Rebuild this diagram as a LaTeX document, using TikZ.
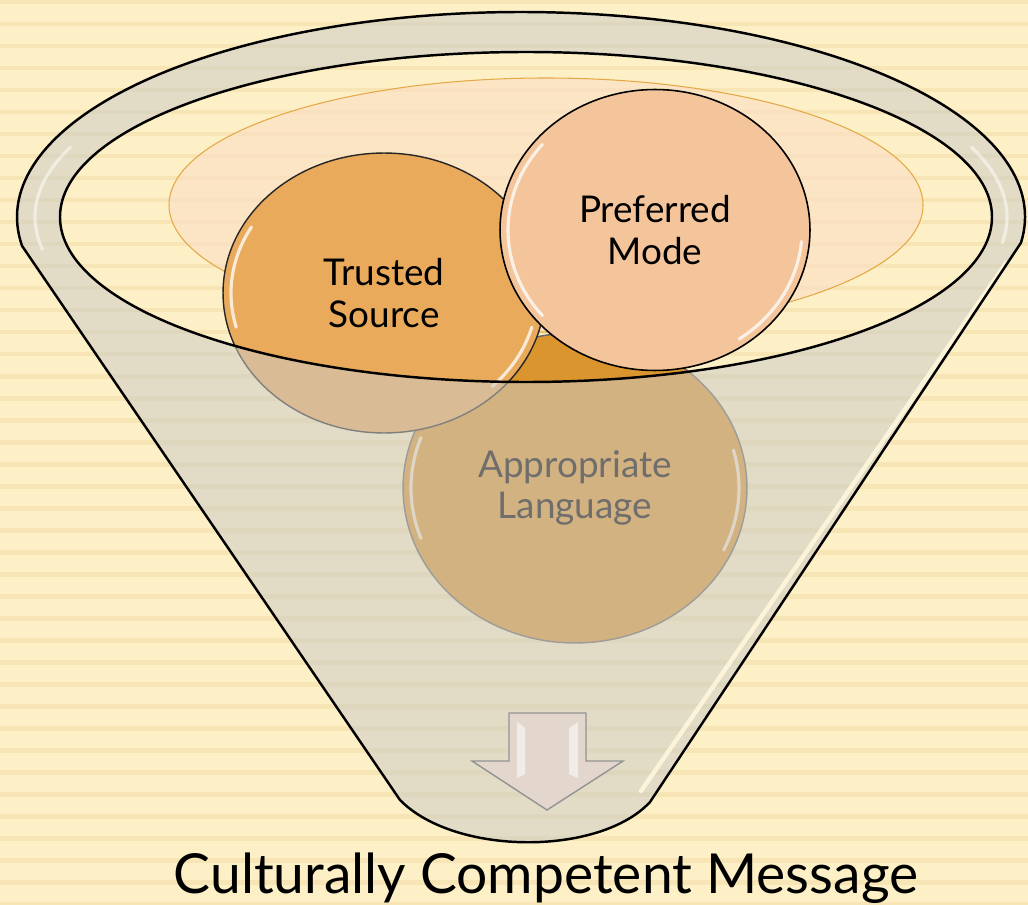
\documentclass[tikz,border=0pt]{standalone}
\usepackage{fontspec}
\setmainfont{Lato}
\usepackage{xcolor}
\usetikzlibrary{shapes.geometric, positioning}

\definecolor{paper}{HTML}{FDF0C6}
\definecolor{paperline}{HTML}{F8E5B6}
\definecolor{rimgrey}{HTML}{CCCAC6}
\definecolor{innerglow}{HTML}{FADEC4}
\definecolor{glowedge}{HTML}{E5A847}
\definecolor{trustcol}{HTML}{E9AA5B}
\definecolor{prefcol}{HTML}{F4C49A}
\definecolor{langcol}{HTML}{DA952F}
\definecolor{arrowfill}{HTML}{E3D7CD}
\definecolor{creamshine}{HTML}{FFF7DC}

\begin{document}
\begin{tikzpicture}[x=0.02cm, y=0.02cm,
    bubble/.style={ellipse, inner sep=0pt, align=center, font=\fontsize{21}{23.5}\selectfont},
    rimline/.style={line width=1.4pt, black},
    wall/.style={fill=rimgrey, fill opacity=0.55},
    gloss/.style={white, line width=1.8pt, opacity=0.75, line cap=round}]
    \useasboundingbox (0,0) rectangle (1028,904);

    % Striped paper
    \fill[paper] (0,0) rectangle (1028,904);
    \foreach \k in {0,...,41}
        \fill[paperline] (0,{904-22*\k}) rectangle (1028,{904-22*\k-4.5});

    % Funnel geometry
    \coordinate (oc) at (521,687);  % outer rim centre
    \coordinate (ic) at (526,687);  % inner rim centre
    \path (oc) ++(-7.2:504 and 205) coordinate (rc);
    \path (oc) ++(188.1:504 and 205) coordinate (lc);
    \coordinate (il) at (60,687);
    \coordinate (ir) at (992,687);
    \coordinate (bl) at (400,104);
    \coordinate (br) at (650,102);

    % Back part of the rim
    \fill[wall] (rc) arc[start angle=-7.2, end angle=188.1, x radius=504, y radius=205]
        -- (il) arc[start angle=180, end angle=0, x radius=466, y radius=165] -- cycle;

    % Glow inside the mouth
    \draw[fill=innerglow, fill opacity=0.6, draw=glowedge, line width=0.6pt]
        (546,699) ellipse[x radius=377, y radius=127];

    % Bubbles
    \node[bubble, fill=langcol, draw=gray!80!black, line width=0.8pt,
          minimum width=6.88cm, minimum height=6.2cm] (language) at (575,416) {Appropriate\\Language};
    \draw[gloss] (language.center) ++(160:164 and 147) arc[start angle=160, end angle=200, x radius=164, y radius=147];
    \draw[gloss] (language.center) ++(-25:164 and 147) arc[start angle=-25, end angle=15, x radius=164, y radius=147];

    \node[bubble, fill=trustcol, draw=black!85, line width=0.8pt,
          minimum width=6.44cm, minimum height=5.6cm] (trusted) at (384,611) {Trusted\\Source};
    \draw[gloss] (trusted.center) ++(150:153 and 132) arc[start angle=150, end angle=195, x radius=153, y radius=132];
    \draw[gloss] (trusted.center) ++(-15:153 and 132) arc[start angle=-15, end angle=-45, x radius=153, y radius=132];

    \node[bubble, fill=prefcol, draw=black, line width=0.9pt,
          minimum width=6.2cm, minimum height=5.62cm] (preferred) at (655,674) {Preferred\\Mode};
    \draw[gloss] (preferred.center) ++(140:147 and 133) arc[start angle=140, end angle=220, x radius=147, y radius=133];
    \draw[gloss] (preferred.center) ++(-5:147 and 133) arc[start angle=-5, end angle=-55, x radius=147, y radius=133];

    % Front wall of the funnel
    \fill[wall] (il) arc[start angle=180, end angle=360, x radius=466, y radius=165]
        -- (rc) -- (br) .. controls (600,48) and (455,48) .. (bl) -- (lc) -- cycle;

    % Shine on the rim
    \draw[creamshine, line width=2.5pt, opacity=0.9, line cap=round] (1006,641) -- (641,113);
    \draw[gloss, opacity=0.5] (oc) ++(158:486 and 186) arc[start angle=158, end angle=190, x radius=486, y radius=186];
    \draw[gloss, opacity=0.5] (oc) ++(-8:486 and 186) arc[start angle=-8, end angle=22, x radius=486, y radius=186];

    % Outlines
    \draw[rimline] (rc) arc[start angle=-7.2, end angle=188.1, x radius=504, y radius=205]
        -- (bl) .. controls (455,48) and (600,48) .. (br) -- cycle;
    \draw[rimline] (ic) ellipse[x radius=466, y radius=165];

    % Down arrow
    \draw[fill=arrowfill, draw=gray!85, line width=0.8pt]
        (509,191) -- (586,191) -- (586,143) -- (623,143) -- (547,94)
        -- (472,143) -- (509,143) -- cycle;
    \fill[white, opacity=0.55] (517,182) -- (525,176) -- (525,130) -- (517,126) -- cycle;
    \fill[white, opacity=0.55] (569,176) -- (578,182) -- (578,126) -- (569,130) -- cycle;

    % Result
    \node[anchor=base, font=\fontsize{31.4}{37}\selectfont] (message) at (546,11) {Culturally Competent Message};
\end{tikzpicture}
\end{document}
